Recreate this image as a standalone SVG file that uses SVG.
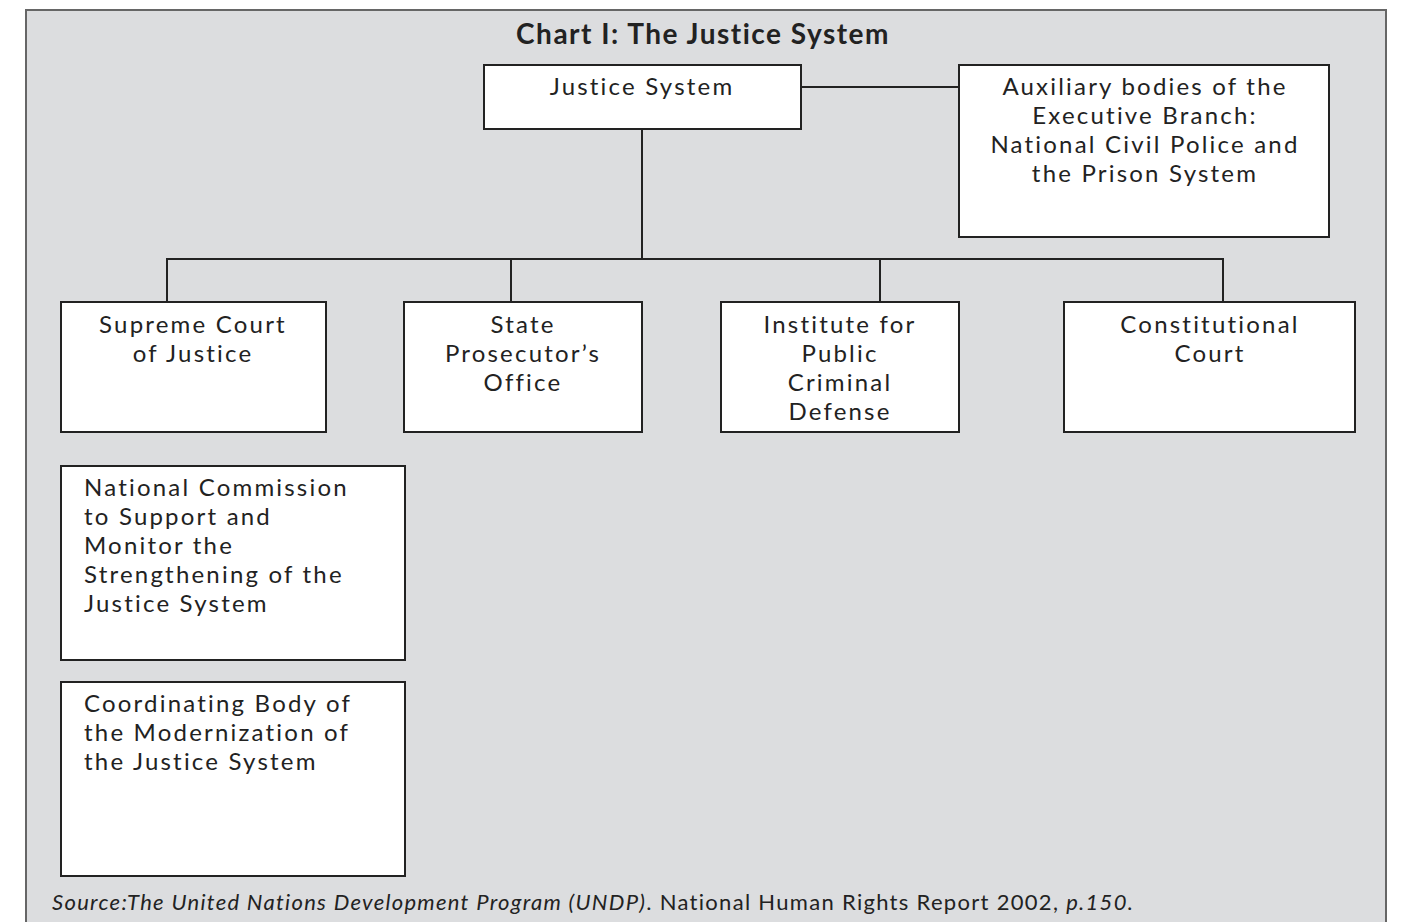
<svg xmlns="http://www.w3.org/2000/svg" width="1404" height="922" viewBox="0 0 1404 922">
<style>
.box{fill:#fff;stroke:#222;stroke-width:2}
.t{font-family:Lato,"Liberation Sans",sans-serif;font-size:24px;fill:#222;letter-spacing:2.2px}
.c{text-anchor:middle}
.ln{stroke:#222;stroke-width:2;fill:none}
</style>
<rect x="0" y="0" width="1404" height="922" fill="#fff"/>
<rect x="26" y="10" width="1360" height="930" fill="#dcdddf" stroke="#666" stroke-width="2"/>
<text x="703" y="44" text-anchor="middle" font-family="Lato,'Liberation Sans',sans-serif" font-weight="bold" font-size="28" letter-spacing="1.5" fill="#222">Chart I: The Justice System</text>
<g id="connectors">
<path class="ln" d="M642 129V259M167 302V259H1223V302M511 259V302M880 259V302M801 87H959"/>
</g>
<g id="n1"><rect class="box" x="484" y="65" width="317" height="64"/><text class="t c" x="642" y="95">Justice System</text></g>
<g id="n2"><rect class="box" x="959" y="65" width="370" height="172"/><text class="t c" x="1145" y="95"><tspan x="1145">Auxiliary bodies of the</tspan><tspan x="1145" dy="29">Executive Branch:</tspan><tspan x="1145" dy="29">National Civil Police and</tspan><tspan x="1145" dy="29">the Prison System</tspan></text></g>
<g id="n3"><rect class="box" x="61" y="302" width="265" height="130"/><text class="t c" x="193" y="333"><tspan x="193">Supreme Court</tspan><tspan x="193" dy="29">of Justice</tspan></text></g>
<g id="n4"><rect class="box" x="404" y="302" width="238" height="130"/><text class="t c" x="523" y="333"><tspan x="523">State</tspan><tspan x="523" dy="29">Prosecutor’s</tspan><tspan x="523" dy="29">Office</tspan></text></g>
<g id="n5"><rect class="box" x="721" y="302" width="238" height="130"/><text class="t c" x="840" y="333"><tspan x="840">Institute for</tspan><tspan x="840" dy="29">Public</tspan><tspan x="840" dy="29">Criminal</tspan><tspan x="840" dy="29">Defense</tspan></text></g>
<g id="n6"><rect class="box" x="1064" y="302" width="291" height="130"/><text class="t c" x="1210" y="333"><tspan x="1210">Constitutional</tspan><tspan x="1210" dy="29">Court</tspan></text></g>
<g id="n7"><rect class="box" x="61" y="466" width="344" height="194"/><text class="t" x="84" y="496"><tspan x="84">National Commission</tspan><tspan x="84" dy="29">to Support and</tspan><tspan x="84" dy="29">Monitor the</tspan><tspan x="84" dy="29">Strengthening of the</tspan><tspan x="84" dy="29">Justice System</tspan></text></g>
<g id="n8"><rect class="box" x="61" y="682" width="344" height="194"/><text class="t" x="84" y="712"><tspan x="84">Coordinating Body of</tspan><tspan x="84" dy="29">the Modernization of</tspan><tspan x="84" dy="29">the Justice System</tspan></text></g>
<text x="52" y="910" font-family="Lato,'Liberation Sans',sans-serif" font-size="22" letter-spacing="1.3" fill="#222"><tspan font-style="italic">Source:The United Nations Development Program (UNDP)</tspan>. National Human Rights Report 2002, <tspan font-style="italic">p.150.</tspan></text>
</svg>
